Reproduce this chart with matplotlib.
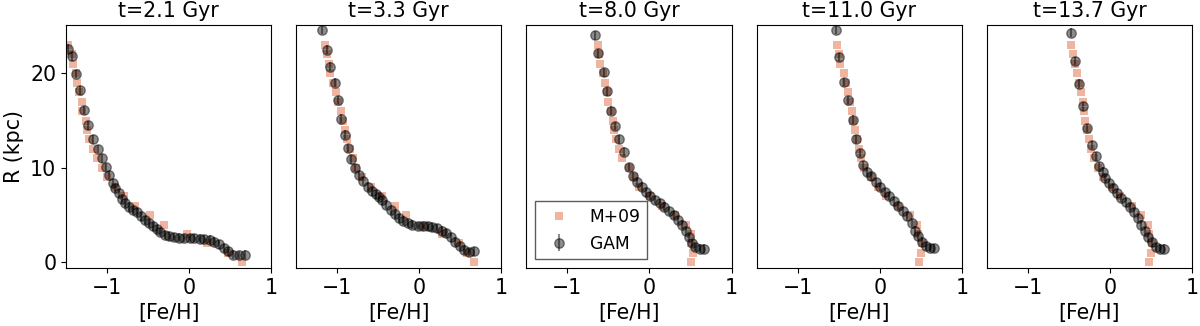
import numpy as np
import matplotlib
matplotlib.use('Agg')
import matplotlib.pyplot as plt

titles = ['t=2.1 Gyr', 't=3.3 Gyr', 't=8.0 Gyr', 't=11.0 Gyr', 't=13.7 Gyr']

# M+09 gradients, one point per kpc from R=0 to R=23
r_m09 = list(range(24))
fe_m09_1 = [0.65, 0.47, 0.22, -0.03, -0.30, -0.48, -0.66, -0.79, -0.90, -1.0, -1.065, -1.125, -1.175, -1.215,
            -1.24, -1.26, -1.30, -1.31, -1.34, -1.36, -1.38, -1.41, -1.43, -1.47]
fe_m09_2 = [0.67, 0.58, 0.48, 0.28, 0.05, -0.16, -0.30, -0.46, -0.585, -0.695, -0.77, -0.81, -0.85, -0.88,
            -0.91, -0.93, -0.96, -0.99, -1.01, -1.05, -1.085, -1.10, -1.13, -1.15]
fe_m09_3 = [0.50, 0.53, 0.51, 0.50, 0.44, 0.305, 0.155, 0.01, -0.13, -0.19, -0.25, -0.33, -0.37, -0.41,
            -0.435, -0.45, -0.47, -0.50, -0.52, -0.545, -0.57, -0.60, -0.61, -0.63]
fe_m09_4 = [0.48, 0.50, 0.51, 0.47, 0.455, 0.365, 0.225, 0.08, -0.02, -0.10, -0.19, -0.23, -0.255, -0.275,
            -0.30, -0.32, -0.34, -0.36, -0.39, -0.41, -0.44, -0.48, -0.50, -0.515]
fe_m09_5 = [0.48, 0.50, 0.51, 0.48, 0.47, 0.385, 0.265, 0.12, 0.02, -0.08, -0.14, -0.19, -0.23, -0.26,
            -0.28, -0.30, -0.32, -0.33, -0.35, -0.375, -0.40, -0.42, -0.45, -0.47]

# GAM fits
fe_gam_1 = [0.68, 0.61, 0.54, 0.48, 0.42, 0.36, 0.30, 0.25, 0.18, 0.13, 0.065, 0.005, -0.06, -0.12, -0.18,
            -0.24, -0.29, -0.35, -0.39, -0.44, -0.49, -0.54, -0.585, -0.63, -0.68, -0.73, -0.78, -0.82,
            -0.86, -0.90, -0.93, -0.97, -1.01, -1.065, -1.11, -1.165, -1.23, -1.28, -1.33, -1.38, -1.43, -1.47]
r_gam_1 = [0.8, 0.75, 0.8, 1.15, 1.5, 1.9, 2.2, 2.4, 2.45, 2.5, 2.55, 2.55, 2.55, 2.6, 2.7, 2.75, 2.9, 3.2,
           3.5, 3.8, 4.15, 4.5, 4.85, 5.3, 5.55, 5.9, 6.25, 6.7, 7.3, 7.85, 8.4, 9.25, 10.1, 11.0, 12.0, 13.0,
           14.5, 16.1, 18.2, 19.9, 21.8, 22.6]
fe_gam_2 = [0.67, 0.61, 0.55, 0.49, 0.44, 0.39, 0.33, 0.28, 0.22, 0.16, 0.10, 0.04, -0.02, -0.085, -0.14,
            -0.20, -0.25, -0.30, -0.34, -0.40, -0.45, -0.49, -0.53, -0.58, -0.63, -0.68, -0.73, -0.78, -0.83,
            -0.87, -0.91, -0.95, -0.99, -1.03, -1.09, -1.12, -1.19]
r_gam_2 = [1.15, 1.1, 1.35, 1.75, 2.2, 2.65, 3.1, 3.35, 3.6, 3.7, 3.8, 3.8, 3.85, 4.0, 4.15, 4.4, 4.7, 5.1,
           5.55, 6.1, 6.55, 6.9, 7.2, 7.5, 8.0, 8.6, 9.25, 10.0, 10.9, 12.1, 13.5, 15.2, 17.2, 19.0, 20.7,
           22.5, 24.6]
fe_gam_3 = [0.67, 0.615, 0.56, 0.52, 0.48, 0.44, 0.40, 0.345, 0.30, 0.235, 0.175, 0.125, 0.065, 0.01, -0.04,
            -0.09, -0.15, -0.20, -0.25, -0.31, -0.37, -0.415, -0.465, -0.515, -0.555, -0.625, -0.665]
r_gam_3 = [1.45, 1.45, 1.6, 2.05, 2.7, 3.3, 4.0, 4.5, 5.0, 5.45, 5.9, 6.3, 6.6, 7.0, 7.4, 8.0, 8.5, 9.15,
           10.1, 11.7, 13.0, 14.4, 16.05, 18.1, 20.1, 22.1, 24.0]
fe_gam_4 = [0.66, 0.61, 0.56, 0.51, 0.47, 0.43, 0.39, 0.335, 0.28, 0.225, 0.17, 0.11, 0.06, 0.0, -0.05,
            -0.10, -0.155, -0.20, -0.235, -0.29, -0.325, -0.385, -0.43, -0.49, -0.535]
r_gam_4 = [1.5, 1.5, 1.7, 2.2, 2.75, 3.35, 4.15, 4.85, 5.45, 6.0, 6.45, 7.0, 7.4, 7.95, 8.45, 9.1, 9.6,
           10.3, 11.55, 13.0, 15.1, 17.2, 19.1, 21.7, 24.6]
fe_gam_5 = [0.66, 0.61, 0.56, 0.51, 0.47, 0.43, 0.385, 0.345, 0.29, 0.245, 0.195, 0.14, 0.09, 0.04, -0.01,
            -0.06, -0.09, -0.13, -0.17, -0.22, -0.285, -0.325, -0.375, -0.43, -0.475]
r_gam_5 = [1.45, 1.45, 1.6, 2.1, 2.65, 3.3, 4.0, 4.7, 5.3, 5.85, 6.35, 6.8, 7.3, 7.85, 8.4, 8.9, 9.6, 10.2,
           11.2, 12.4, 14.2, 16.5, 18.9, 21.3, 24.3]
gam_err = 0.45

fe_m09 = [fe_m09_1, fe_m09_2, fe_m09_3, fe_m09_4, fe_m09_5]
fe_gam = [fe_gam_1, fe_gam_2, fe_gam_3, fe_gam_4, fe_gam_5]
r_gam = [r_gam_1, r_gam_2, r_gam_3, r_gam_4, r_gam_5]

fs = 14.8
fig, axes = plt.subplots(1, 5, figsize=(12, 3.26), dpi=100, sharey=True)
plt.subplots_adjust(left=0.055, right=0.9933, bottom=0.178, top=0.923, wspace=0.122)

for i, ax in enumerate(axes):
    ax.plot(fe_m09[i], r_m09, 's', color='darksalmon', alpha=0.7, markersize=6.4,
            markeredgewidth=0, label='M+09')
    ax.errorbar(fe_gam[i], r_gam[i], yerr=gam_err, fmt='o', color='k', alpha=0.45,
                markersize=6.8, elinewidth=1.5, label='GAM')
    ax.set_xlim(-1.5, 1)
    ax.set_ylim(-0.6, 25.1)
    ax.set_xticks([-1, 0, 1])
    ax.set_yticks([0, 10, 20])
    ax.set_title(titles[i], fontsize=fs)
    ax.set_xlabel('[Fe/H]', fontsize=fs)
    ax.tick_params(labelsize=fs)
    if i > 0:
        ax.tick_params(left=False)

axes[0].set_ylabel('R (kpc)', fontsize=fs)
leg = axes[2].legend(loc='lower left', fontsize=12.3, fancybox=False, edgecolor='0.2')

plt.savefig('out.png')
